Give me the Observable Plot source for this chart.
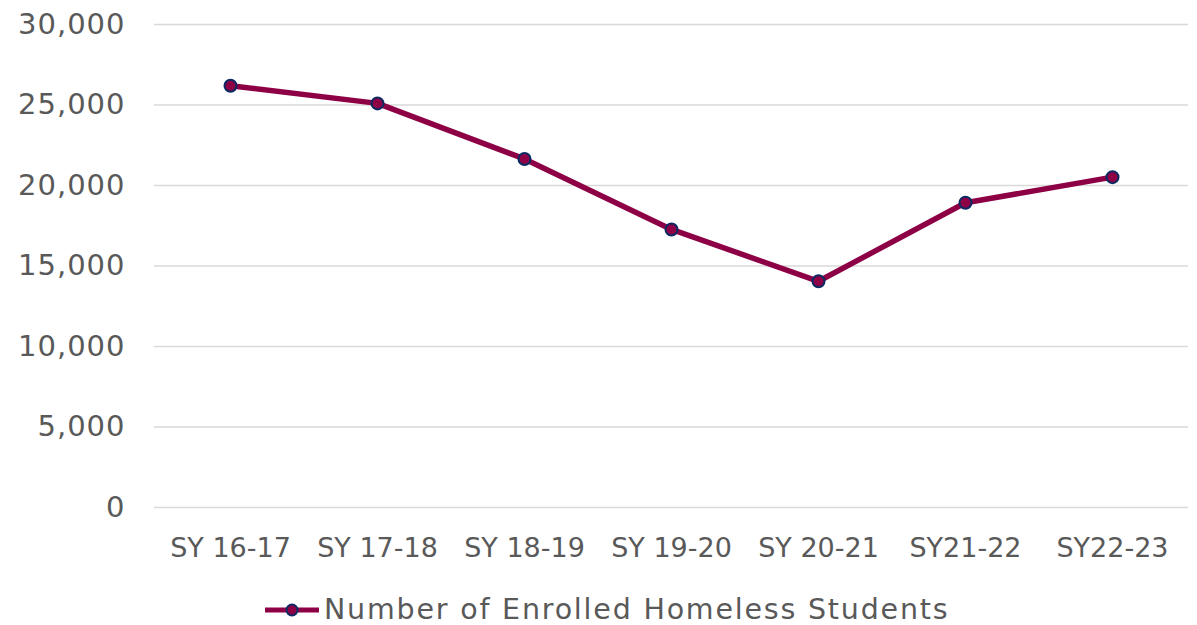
<!DOCTYPE html>
<html>
<head>
<meta charset="utf-8">
<script src="https://cdn.jsdelivr.net/npm/d3@7"></script>
<script src="https://cdn.jsdelivr.net/npm/@observablehq/plot@0.6"></script>
<style>
  html, body { margin: 0; padding: 0; background: #fff; }
  #chart svg { display: block; }
  #chart g[aria-label="y-axis tick label"] text { letter-spacing: 1px; font-size: 29px; }
  #legend { height: 43px; position: relative; font-family: "DejaVu Sans", sans-serif; font-size: 28.5px; color: #595959; }
  #legend .item { position: absolute; left: 263px; top: 11px; display: flex; align-items: center; white-space: nowrap; }
  #legend span { letter-spacing: 1.8px; }
</style>
</head>
<body>
<div id="chart"></div>
<div id="legend"><div class="item"><svg width="58" height="30"><line x1="2" y1="15" x2="56" y2="15" stroke="#8E0045" stroke-width="5"/><circle cx="29" cy="15" r="5.5" fill="#8E0045" stroke="#0B2A63" stroke-width="2"/></svg><span style="margin-left:3px">Number of Enrolled Homeless Students</span></div></div>
<script>
const schoolYears = ["SY 16-17", "SY 17-18", "SY 18-19", "SY 19-20", "SY 20-21", "SY21-22", "SY22-23"];
const enrolledHomeless = [26200, 25100, 21650, 17270, 14050, 18930, 20520];
const yTicks = [0, 5000, 10000, 15000, 20000, 25000, 30000];

const data = schoolYears.map((year, i) => ({year, value: enrolledHomeless[i]}));

const chart = Plot.plot({
  width: 1197,
  height: 582,
  marginTop: 24,
  marginBottom: 75,
  marginLeft: 154,
  marginRight: 9,
  style: {fontFamily: "DejaVu Sans, sans-serif", fontSize: "27px", color: "#595959", background: "#fff"},
  x: {type: "point", domain: schoolYears, padding: 0.5, label: null},
  y: {domain: [0, 30000], label: null},
  marks: [
    Plot.gridY(yTicks, {stroke: "#d9d9d9", strokeOpacity: 1, strokeWidth: 1.5}),
    Plot.axisY(yTicks, {tickSize: 0, tickPadding: 29, tickFormat: d3.format(","), label: null, fill: "#595959"}),
    Plot.axisX({tickSize: 0, tickPadding: 30, label: null, fill: "#595959"}),
    Plot.line(data, {x: "year", y: "value", stroke: "#8E0045", strokeWidth: 5.5, strokeLinejoin: "round"}),
    Plot.dot(data, {x: "year", y: "value", r: 6, fill: "#8E0045", stroke: "#0B2A63", strokeWidth: 2})
  ]
});
document.getElementById("chart").appendChild(chart);
</script>
</body>
</html>
